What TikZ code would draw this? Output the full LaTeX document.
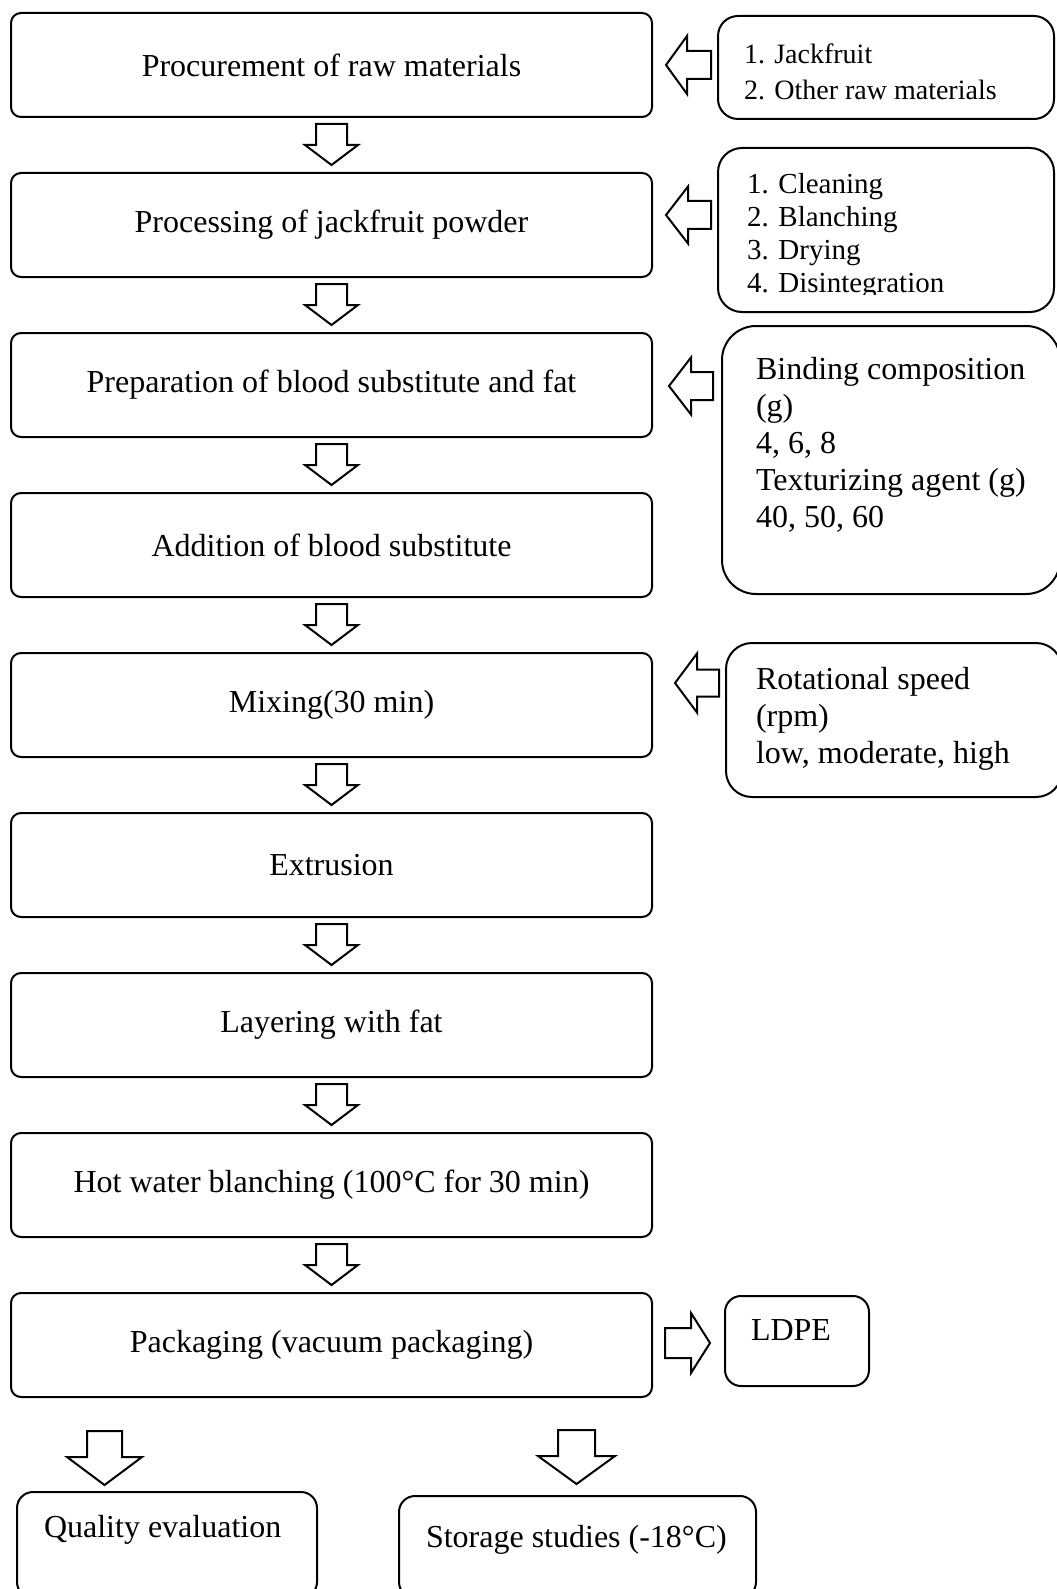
\documentclass[tikz,border=0pt]{standalone}
\usepackage{fontspec}
\setmainfont{Liberation Serif}
\usetikzlibrary{positioning}
\usetikzlibrary{calc}
\tikzstyle{block} = [draw, rectangle, rounded corners=5pt, minimum width=320.5pt, minimum height=52pt, inner sep=0pt, outer sep=0pt, text centered]
\tikzstyle{listbox} = [draw, rectangle, anchor=north west, inner sep=0pt, outer sep=0pt]
\tikzstyle{listtext} = [anchor=north west, inner sep=0pt, align=left]
\tikzstyle{labeltext} = [anchor=base west, inner sep=0pt]
\tikzset{pics/blockarrow/.style n args={4}{code={
    \draw (0,-#2) -- (#1-#4,-#2) -- (#1-#4,-#3) -- (#1,0) -- (#1-#4,#3) -- (#1-#4,#2) -- (0,#2) -- cycle;
}}}

\begin{document}
\begin{tikzpicture}[x=0.5pt, y=-0.5pt, line width=1pt, node distance=28pt, font=\fontsize{16}{18.5}\selectfont]
    \useasboundingbox (0,0) rectangle (1056,1589);
    % main steps
    \node [block] (proc) at (331.5,65) {Procurement of raw materials};
    \node [block, below=of proc] (powder) {Processing of jackfruit powder};
    \node [block, below=of powder] (blood) {Preparation of blood substitute and fat};
    \node [block, below=of blood] (addition) {Addition of blood substitute};
    \node [block, below=of addition] (mixing) {Mixing(30 min)};
    \node [block, below=of mixing] (extrusion) {Extrusion};
    \node [block, below=of extrusion] (layering) {Layering with fat};
    \node [block, below=of layering] (blanching) {Hot water blanching (100°C for 30 min)};
    \node [block, below=of blanching] (packaging) {Packaging (vacuum packaging)};

    % side inputs
    \node [listbox, minimum width=168pt, minimum height=51.5pt, rounded corners=10pt] (raw) at (718,16) {};
    \node [listtext, font=\fontsize{14}{18}\selectfont] (rawtext) at ($(raw.north west)+(25,27)$) {1. Jackfruit\\2. Other raw materials};
    \node [listbox, minimum width=168pt, minimum height=82pt, rounded corners=12pt] (steps) at (718,148) {};
    \begin{scope}
        \clip (steps.north west) rectangle ($(steps.south east)+(0,-18)$);
        \node [listtext, font=\fontsize{14.5}{16.5}\selectfont] (stepstext) at ($(steps.north west)+(28,24)$) {1. Cleaning\\2. Blanching\\3. Drying\\4. Disintegration};
    \end{scope}
    \node [listbox, minimum width=169pt, minimum height=134pt, rounded corners=17pt] (binding) at (722,326) {};
    \node [listtext] (bindingtext) at ($(binding.north west)+(33,30)$) {Binding composition\\(g)\\4, 6, 8\\Texturizing agent (g)\\40, 50, 60};
    \node [listbox, minimum width=168pt, minimum height=77pt, rounded corners=13pt] (speed) at (726,643) {};
    \node [listtext] (speedtext) at ($(speed.north west)+(29,23)$) {Rotational speed\\(rpm)\\low, moderate, high};
    \node [listbox, minimum width=72pt, minimum height=45pt, rounded corners=8pt] (ldpe) at (725,1296) {};
    \node [labeltext] (ldpetext) at ($(ldpe.north west)+(25,44)$) {LDPE};

    % outcomes
    \node [listbox, minimum width=150pt, minimum height=53pt, rounded corners=8pt] (quality) at (17,1492) {};
    \node [labeltext] (qualitytext) at ($(quality.north west)+(26,45)$) {Quality evaluation};
    \node [listbox, minimum width=178.5pt, minimum height=51pt, rounded corners=8pt] (storage) at (399,1496) {};
    \node [labeltext] (storagetext) at ($(storage.north west)+(26,51)$) {Storage studies (-18°C)};

    % block arrows
    \pic [rotate=-90] at ($(proc.south)+(0,7)$) {blockarrow={41}{15.5}{26.5}{20}};
    \pic [rotate=-90] at ($(powder.south)+(0,7)$) {blockarrow={41}{15.5}{26.5}{20}};
    \pic [rotate=-90] at ($(blood.south)+(0,7)$) {blockarrow={41}{15.5}{26.5}{20}};
    \pic [rotate=-90] at ($(addition.south)+(0,7)$) {blockarrow={41}{15.5}{26.5}{20}};
    \pic [rotate=-90] at ($(mixing.south)+(0,7)$) {blockarrow={41}{15.5}{26.5}{20}};
    \pic [rotate=-90] at ($(extrusion.south)+(0,7)$) {blockarrow={41}{15.5}{26.5}{20}};
    \pic [rotate=-90] at ($(layering.south)+(0,7)$) {blockarrow={41}{15.5}{26.5}{20}};
    \pic [rotate=-90] at ($(blanching.south)+(0,7)$) {blockarrow={41}{15.5}{26.5}{20}};
    \pic [rotate=180] at ($(proc.east)+(59,0)$) {blockarrow={45}{14}{29}{21}};
    \pic [rotate=180] at ($(powder.east)+(59,-10)$) {blockarrow={45}{14}{28.5}{22}};
    \pic [rotate=180] at ($(blood.east)+(61,1)$) {blockarrow={44}{14}{28.5}{22}};
    \pic [rotate=180] at ($(mixing.east)+(67,-22)$) {blockarrow={44}{13.5}{29.5}{22}};
    \pic at ($(packaging.east)+(13,-2)$) {blockarrow={45}{15}{30}{19}};
    \pic [rotate=-90] at ($(packaging.south west)+(93.5,34)$) {blockarrow={54}{17.5}{37.5}{28}};
    \pic [rotate=-90] at ($(packaging.south west)+(565.5,33)$) {blockarrow={54}{18.5}{38.5}{28}};
\end{tikzpicture}
\end{document}
